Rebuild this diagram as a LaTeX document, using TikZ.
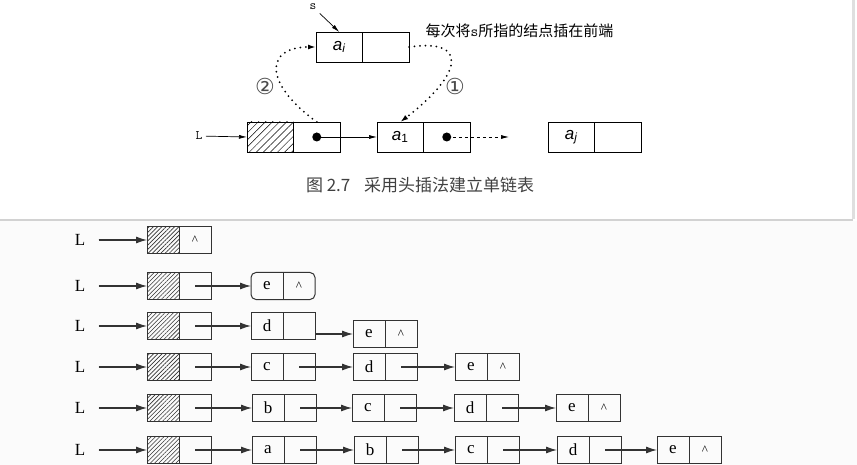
\documentclass[tikz,border=0pt]{standalone}
\usepackage{fontspec}
\setmainfont{Liberation Serif}
\newfontfamily\cjk{Noto Sans CJK SC}
\newfontfamily\symfont{DejaVu Sans}
\newfontfamily\sansf{Liberation Sans}
\usetikzlibrary{arrows.meta,patterns.meta,positioning}

\tikzset{
  tcell/.style={draw, line width=0.7pt, minimum width=46.5pt, minimum height=30pt, inner sep=0pt, outer sep=0pt, anchor=west, font=\sansf\fontsize{17}{19}\selectfont},
  bcell/.style={draw=black!80, line width=1pt, minimum width=32pt, minimum height=27pt, inner sep=0pt, outer sep=0pt, anchor=west, font=\fontsize{17}{19}\selectfont},
  thatch/.style={pattern={Lines[angle=45,distance=5pt,line width=0.5pt]}},
  bhatch/.style={pattern={Lines[angle=45,distance=3pt,line width=0.6pt]}, pattern color=black!80},
  tptr/.style={-{Latex[length=8pt,width=4pt]}, line width=0.7pt},
  bptr/.style={-{Latex[length=11pt,width=7pt]}, line width=1.1pt, draw=black!80, fill=black!80},
  dots/.style={line width=2pt, dash pattern=on 0pt off 5.5pt, line cap=round, -{Latex[length=8pt,width=5pt]}},
  lbl/.style={font=\fontsize{17}{19}\selectfont},
  circnum/.style={font=\symfont\fontsize{22}{24}\selectfont, text=black!70},
}
% two-cell list node: [options of data cell] name, position, data, pointer
\newcommand{\listnode}[5][]{%
  \node[bcell,#1] (#2d) at (#3) {#4};
  \node[bcell] (#2p) at (#2d.east) {#5};}
\newcommand{\nil}{{\fontsize{13}{15}\selectfont\textasciicircum}}

\begin{document}
\begin{tikzpicture}[x=1pt,y=-1pt]
\useasboundingbox (0,0) rectangle (857,465);
% panel background
\fill[gray!3] (0,221) rectangle (857,465);
\draw[gray!35, line width=1.5pt] (0,220) -- (853,220);
\fill[gray!25] (852,0) rectangle (855,219);

% ---- figure 2.7 ----
\node[tcell, thatch] (hd) at (247,137) {};
\node[tcell] (hp) at (hd.east) {};
\node[tcell] (aid) at (316,47) {\textit{a}\textsubscript{\textit{i}}};
\node[tcell] (aip) at (aid.east) {};
\node[tcell] (a1d) at (377,137) {\textit{a}\textsubscript{1}};
\node[tcell] (a1p) at (a1d.east) {};
\node[tcell] (ajd) at (548,137) {\textit{a}\textsubscript{\textit{j}}};
\node[tcell] (ajp) at (ajd.east) {};

\node[font=\ttfamily\fontsize{13}{15}\selectfont] (L0) at (199,136) {L};
\node[font=\ttfamily\fontsize{13}{15}\selectfont] (s) at (313,7) {s};
\draw[tptr] (L0) -- (hd.west);
\draw[tptr] (s) -- (aid.north);

\fill (hp.center) circle (4.5pt);
\fill (a1p.center) circle (4.5pt);
\draw[tptr] (hp.center) -- (a1d.west);
\coordinate (aend) at (509,137);
\draw[tptr, dashed] (a1p.center) -- (aend);

\draw[dots] (aip.east) .. controls (470,38) and (462,75) .. (a1d.north);
\draw[dots] (hp.north) .. controls (262,82) and (266,47) .. (aid.west);
\node[circnum] (n1) at (455,86) {①};
\node[circnum] (n2) at (265,86) {②};

\node[anchor=west, font=\cjk\fontsize{15}{17}\selectfont] (note) at (422,31) {每次将{\ttfamily s}所指的结点插在前端};
\node[font=\cjk\fontsize{17}{20}\selectfont, text=black!75] (cap) at (420,185) {图 2.7\hspace{0.8em}采用头插法建立单链表};

% ---- head insertion, step by step ----
% row 1
\node[lbl] (L1) at (80,240) {L};
\listnode[bhatch]{h1}{147,240}{}{\nil}
\draw[bptr, shorten <=10pt] (L1) -- (h1d.west);

% row 2
\node[lbl] (L2) at (80,286) {L};
\listnode[bhatch]{h2}{147,286}{}{}
\node[bcell, draw=none] (e2d) at (251,286) {e};
\node[bcell, draw=none] (e2p) at (e2d.east) {\nil};
\draw[black!80, line width=1pt, rounded corners=5pt] (e2d.north west) rectangle (e2p.south east);
\draw[black!80, line width=1pt] (e2d.north east) -- (e2d.south east);
\draw[bptr, shorten <=10pt] (L2) -- (h2d.west);
\draw[bptr] (h2p.center) -- (e2d.west);

% row 3
\node[lbl] (L3) at (80,326) {L};
\listnode[bhatch]{h3}{147,326}{}{}
\listnode{d3}{251,326}{d}{}
\listnode{e3}{353,334}{e}{\nil}
\draw[bptr, shorten <=10pt] (L3) -- (h3d.west);
\draw[bptr] (h3p.center) -- (d3d.west);
\draw[bptr] (d3p.east |- e3d.west) -- (e3d.west);

% row 4
\node[lbl] (L4) at (80,367) {L};
\listnode[bhatch]{h4}{147,367}{}{}
\listnode{c4}{251,367}{c}{}
\listnode{d4}{353,367}{d}{}
\listnode{e4}{455,367}{e}{\nil}
\draw[bptr, shorten <=10pt] (L4) -- (h4d.west);
\draw[bptr] (h4p.center) -- (c4d.west);
\draw[bptr] (c4p.center) -- (d4d.west);
\draw[bptr] (d4p.center) -- (e4d.west);

% row 5
\node[lbl] (L5) at (80,408) {L};
\listnode[bhatch]{h5}{147,408}{}{}
\listnode{b5}{252,408}{b}{}
\listnode{c5}{352,408}{c}{}
\listnode{d5}{454,408}{d}{}
\listnode{e5}{556,408}{e}{\nil}
\draw[bptr, shorten <=10pt] (L5) -- (h5d.west);
\draw[bptr] (h5p.center) -- (b5d.west);
\draw[bptr] (b5p.center) -- (c5d.west);
\draw[bptr] (c5p.center) -- (d5d.west);
\draw[bptr] (d5p.center) -- (e5d.west);

% row 6
\node[lbl] (L6) at (80,450) {L};
\listnode[bhatch]{h6}{147,450}{}{}
\listnode{a6}{252,450}{a}{}
\listnode{b6}{354,450}{b}{}
\listnode{c6}{455,450}{c}{}
\listnode{d6}{557,450}{d}{}
\listnode{e6}{657,450}{e}{\nil}
\draw[bptr, shorten <=10pt] (L6) -- (h6d.west);
\draw[bptr] (h6p.center) -- (a6d.west);
\draw[bptr] (a6p.center) -- (b6d.west);
\draw[bptr] (b6p.center) -- (c6d.west);
\draw[bptr] (c6p.center) -- (d6d.west);
\draw[bptr] (d6p.center) -- (e6d.west);
\end{tikzpicture}
\end{document}
